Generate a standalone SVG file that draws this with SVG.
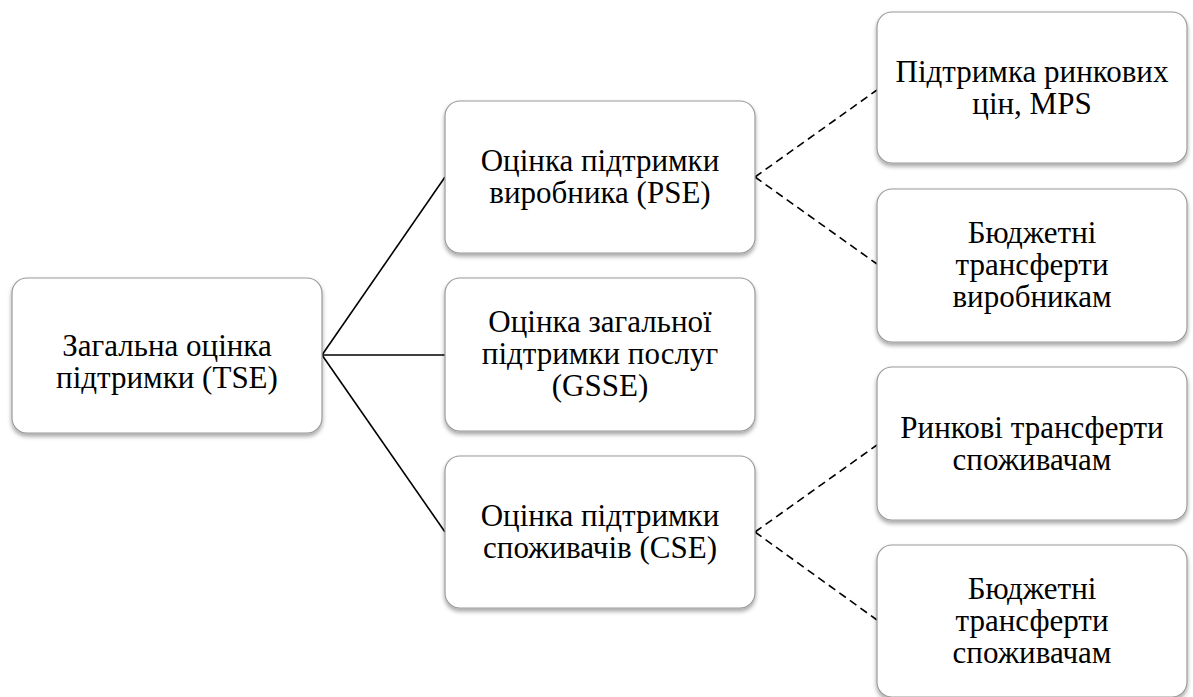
<svg xmlns="http://www.w3.org/2000/svg" width="1193" height="697" viewBox="0 0 1193 697">
<style>
.box{fill:#ffffff;stroke:#9a9a9a;stroke-width:1.2;filter:url(#sh)}
.t{font-family:'Liberation Serif','Times New Roman',serif;font-size:31px;fill:#000;text-anchor:middle}
.solid{stroke:#000;stroke-width:1.6;fill:none}
.dash{stroke:#000;stroke-width:1.6;fill:none;stroke-dasharray:8 5}
</style>
<defs>
<filter id="sh" x="-10%" y="-10%" width="120%" height="130%">
<feDropShadow dx="0" dy="3" stdDeviation="2" flood-color="#000" flood-opacity="0.35"/>
</filter>
</defs>
<g id="connectors">
<line class="solid" x1="322" y1="355" x2="445" y2="177"/>
<line class="solid" x1="322" y1="355" x2="445" y2="355"/>
<line class="solid" x1="322" y1="355" x2="445" y2="532"/>
<line class="dash" x1="755" y1="177" x2="877" y2="90"/>
<line class="dash" x1="755" y1="177" x2="877" y2="264"/>
<line class="dash" x1="755" y1="532" x2="877" y2="445"/>
<line class="dash" x1="755" y1="532" x2="877" y2="620"/>
</g>
<g id="tse">
<rect class="box" x="12" y="278" width="310" height="155" rx="15"/>
<text class="t" x="167" y="356">Загальна оцінка</text>
<text class="t" x="167" y="388">підтримки (TSE)</text>
</g>
<g id="pse">
<rect class="box" x="445" y="101" width="310" height="152" rx="15"/>
<text class="t" x="600" y="171">Оцінка підтримки</text>
<text class="t" x="600" y="203">виробника (PSE)</text>
</g>
<g id="gsse">
<rect class="box" x="445" y="278" width="310" height="153" rx="15"/>
<text class="t" x="600" y="332">Оцінка загальної</text>
<text class="t" x="600" y="364">підтримки послуг</text>
<text class="t" x="600" y="396">(GSSE)</text>
</g>
<g id="cse">
<rect class="box" x="445" y="456" width="310" height="152" rx="15"/>
<text class="t" x="600" y="526">Оцінка підтримки</text>
<text class="t" x="600" y="558">споживачів (CSE)</text>
</g>
<g id="mps">
<rect class="box" x="877" y="12" width="310" height="151" rx="15"/>
<text class="t" x="1032" y="82">Підтримка ринкових</text>
<text class="t" x="1032" y="114">цін, MPS</text>
</g>
<g id="bt-prod">
<rect class="box" x="877" y="189" width="310" height="153" rx="15"/>
<text class="t" x="1032" y="243">Бюджетні</text>
<text class="t" x="1032" y="275">трансферти</text>
<text class="t" x="1032" y="307">виробникам</text>
</g>
<g id="mt-cons">
<rect class="box" x="877" y="367" width="310" height="153" rx="15"/>
<text class="t" x="1032" y="438">Ринкові трансферти</text>
<text class="t" x="1032" y="470">споживачам</text>
</g>
<g id="bt-cons">
<rect class="box" x="877" y="545" width="310" height="152" rx="15"/>
<text class="t" x="1032" y="599">Бюджетні</text>
<text class="t" x="1032" y="631">трансферти</text>
<text class="t" x="1032" y="663">споживачам</text>
</g>
</svg>
